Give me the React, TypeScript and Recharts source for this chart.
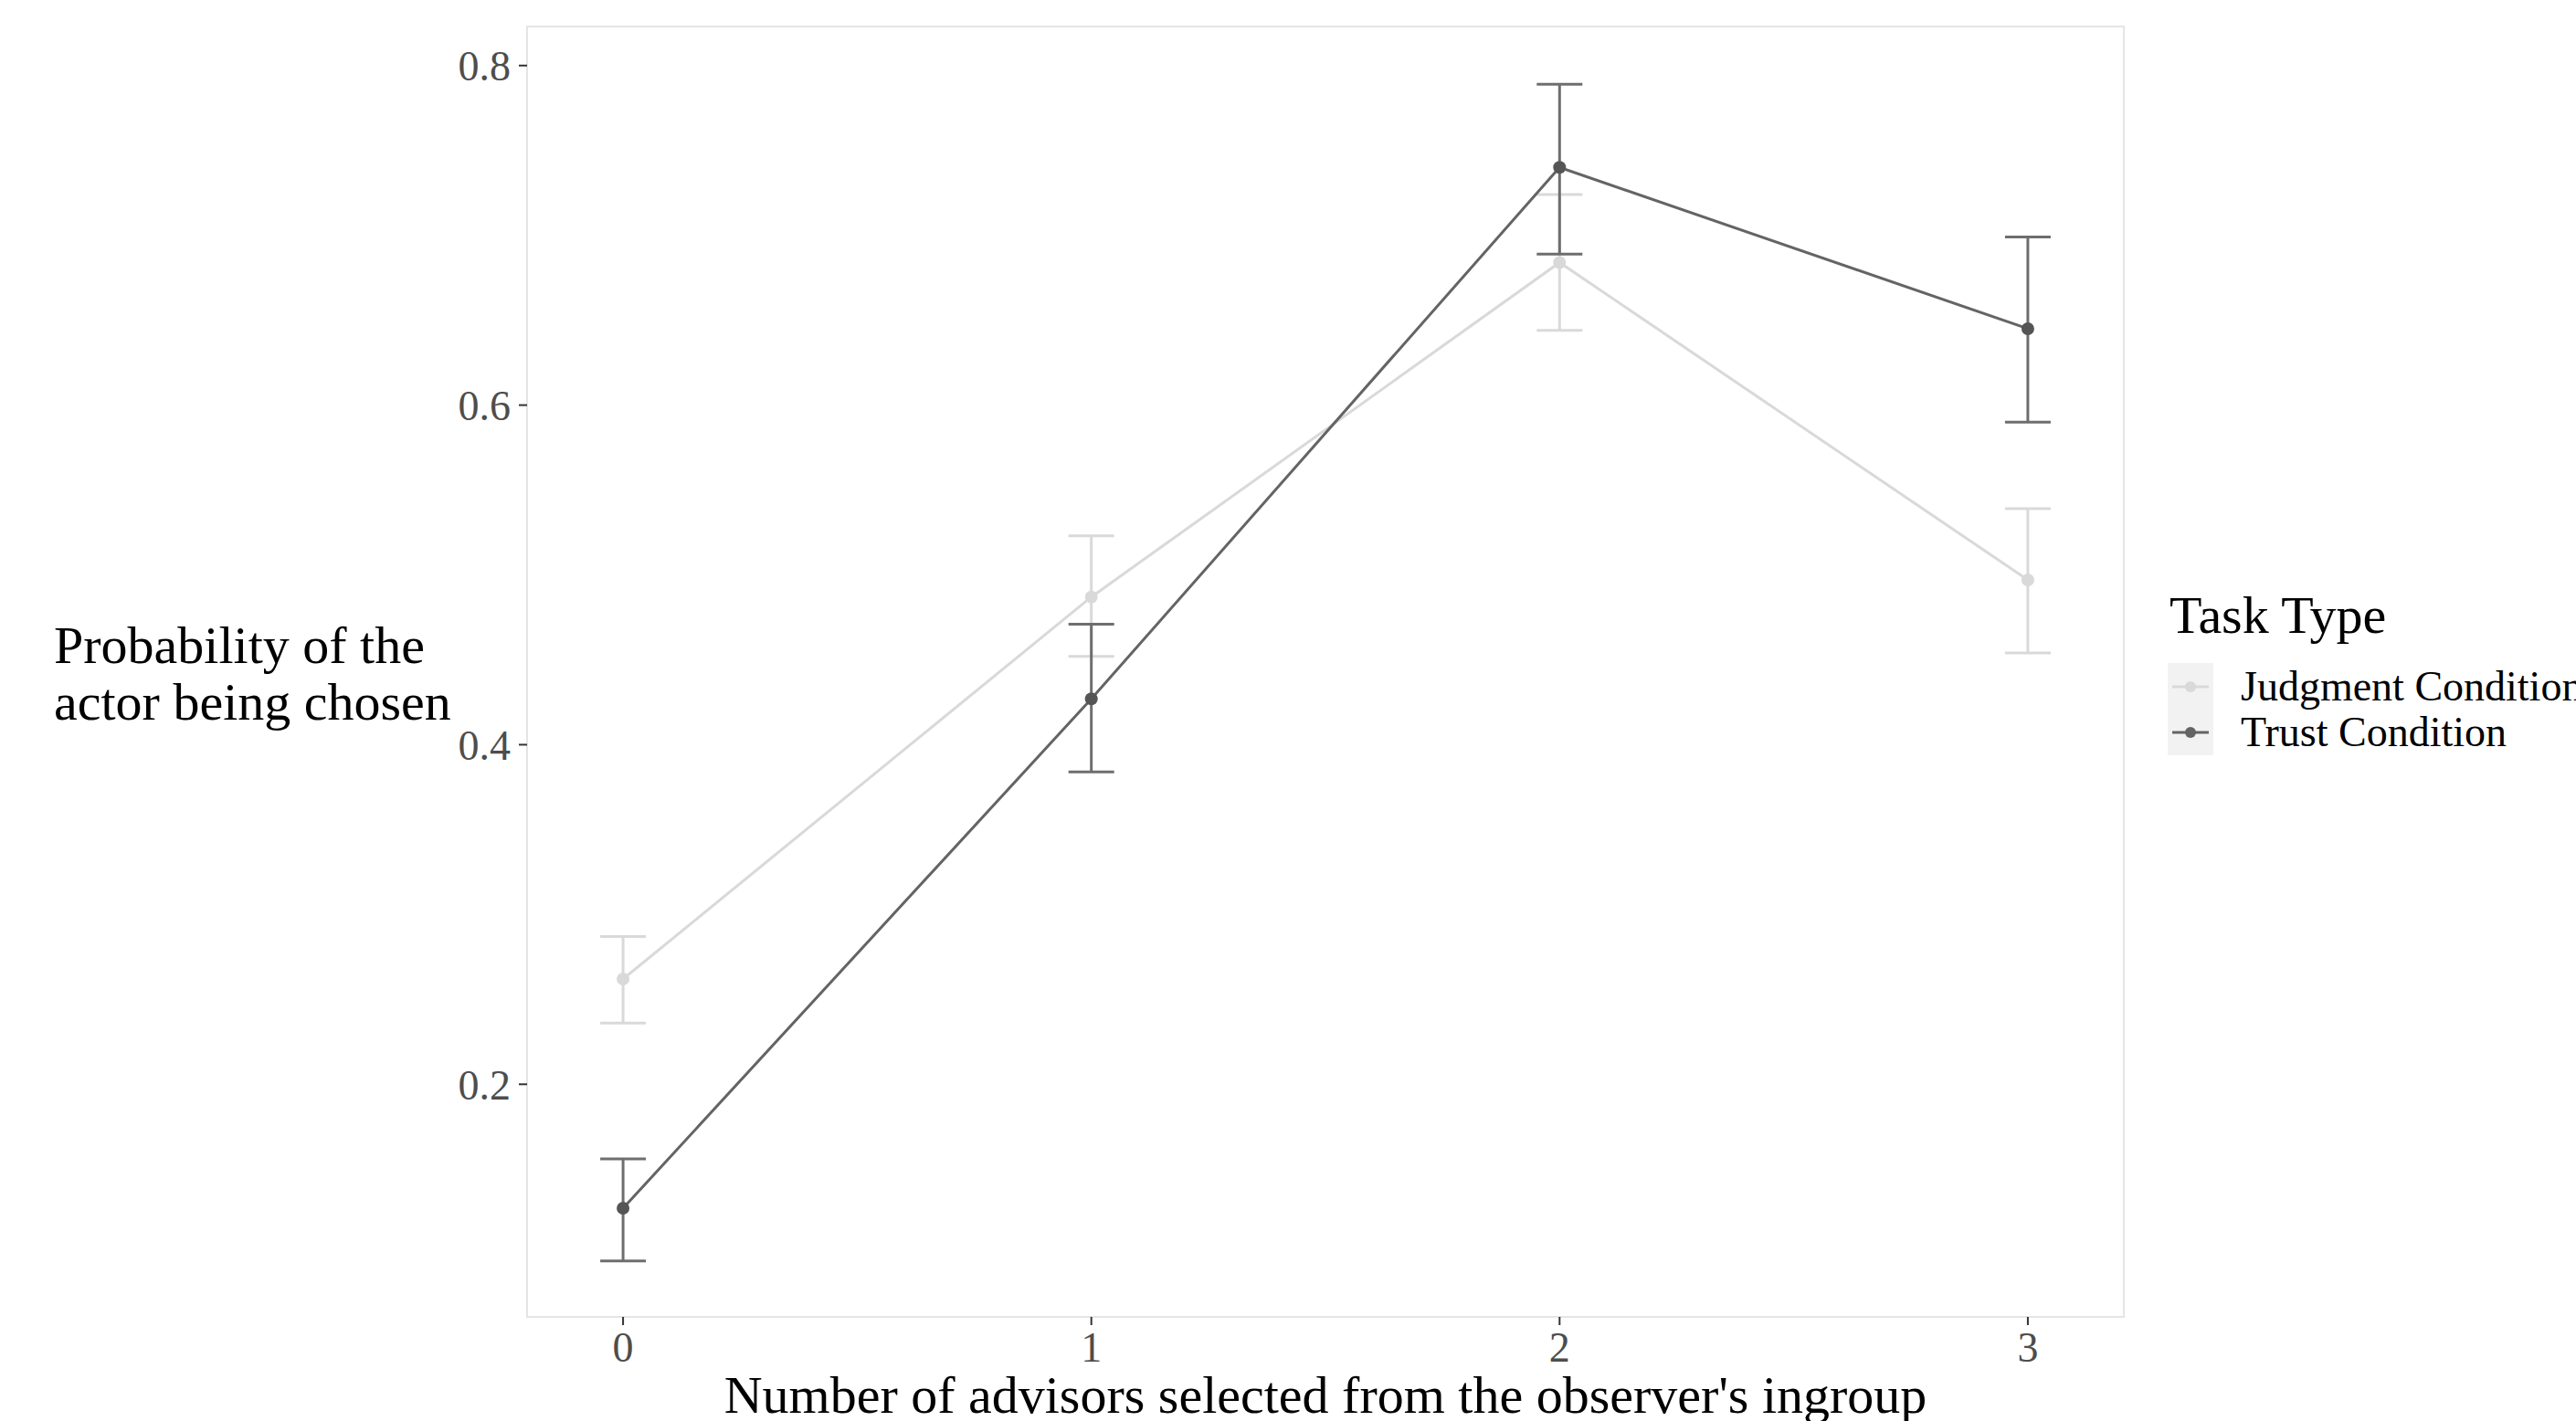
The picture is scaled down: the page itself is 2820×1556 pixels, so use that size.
import React from 'react';
import { LineChart, Line, XAxis, YAxis, ErrorBar, ReferenceArea, Legend, Label } from 'recharts';

// advisors chosen from ingroup (x) and the estimated probability per task type
const advisors = [0, 1, 2, 3];
const judgmentMean = [0.262, 0.487, 0.684, 0.497];
const judgmentLow = [0.236, 0.452, 0.644, 0.454];
const judgmentHigh = [0.287, 0.523, 0.724, 0.539];
const trustMean = [0.127, 0.427, 0.74, 0.645];
const trustLow = [0.096, 0.384, 0.689, 0.59];
const trustHigh = [0.156, 0.471, 0.789, 0.699];
const yTicks = [0.2, 0.4, 0.6, 0.8];
const seriesNames = ['Judgment Condition', 'Trust Condition'];

const font = '"Liberation Serif", "Times New Roman", serif';
const judgmentColor = '#d9d9d9';
const trustColor = '#646464';

const data = advisors.map((x, i) => ({
  x,
  judgment: judgmentMean[i],
  judgmentErr: [judgmentMean[i] - judgmentLow[i], judgmentHigh[i] - judgmentMean[i]],
  trust: trustMean[i],
  trustErr: [trustMean[i] - trustLow[i], trustHigh[i] - trustMean[i]],
}));

const legendItems = [
  { name: seriesNames[0], color: judgmentColor },
  { name: seriesNames[1], color: trustColor },
];

function TaskLegend() {
  return (
    <svg width={447} height={200} style={{ overflow: 'visible' }}>
      <text x={2} y={53} fontFamily={font} fontSize={58} fill="#000">Task Type</text>
      <rect x={0} y={86} width={50} height={101} fill="#f2f2f2" />
      {legendItems.map((item, i) => (
        <g key={item.name}>
          <line x1={5} x2={45} y1={112 + i * 50} y2={112 + i * 50} stroke={item.color} strokeWidth={3} />
          <circle cx={25} cy={112 + i * 50} r={6} fill={item.color} />
          <text x={80} y={127 + i * 50} fontFamily={font} fontSize={46} fill="#000">{item.name}</text>
        </g>
      ))}
    </svg>
  );
}

function YTitle(props: any) {
  return (
    <text x={59} y={726} fontFamily={font} fontSize={58} fill="#000">
      <tspan x={59} y={726}>Probability of the</tspan>
      <tspan x={59} y={788}>actor being chosen</tspan>
    </text>
  );
}

function XTitle(props: any) {
  return (
    <text x={1451} y={1547} textAnchor="middle" fontFamily={font} fontSize={58} fill="#000">
      Number of advisors selected from the observer's ingroup
    </text>
  );
}

export default function App() {
  return (
    <div style={{ position: 'absolute', left: 0, top: 0, width: 2820, height: 1556, background: '#fff', overflow: 'hidden' }}>
      <LineChart
        width={2820}
        height={1556}
        data={data}
        margin={{ top: 29, right: 495, bottom: 0, left: 0 }}
      >
        <XAxis
          dataKey="x"
          type="number"
          domain={[-0.205, 3.205]}
          ticks={advisors}
          allowDataOverflow
          axisLine={false}
          tickLine={{ stroke: '#333', strokeWidth: 2 }}
          tickSize={9}
          tickMargin={7}
          height={114}
          tick={{ fontFamily: font, fontSize: 46, fill: '#4d4d4d' }}
        >
          <Label content={<XTitle />} />
        </XAxis>
        <YAxis
          type="number"
          domain={[0.063, 0.823]}
          ticks={yTicks}
          allowDataOverflow
          axisLine={false}
          tickLine={{ stroke: '#333', strokeWidth: 2 }}
          tickSize={9}
          tickMargin={9}
          width={577}
          tick={{ fontFamily: font, fontSize: 46, fill: '#4d4d4d' }}
          tickFormatter={(v: number) => v.toFixed(1)}
        >
          <Label content={<YTitle />} />
        </YAxis>
        <ReferenceArea
          x1={-0.205}
          x2={3.205}
          y1={0.063}
          y2={0.823}
          fill="none"
          stroke="#e5e5e5"
          strokeWidth={2}
          ifOverflow="visible"
        />
        <Line
          dataKey="judgment"
          name={seriesNames[0]}
          stroke={judgmentColor}
          strokeWidth={3}
          dot={{ r: 7, fill: judgmentColor, stroke: 'none' }}
          activeDot={false}
          isAnimationActive={false}
        >
          <ErrorBar dataKey="judgmentErr" direction="y" width={25} stroke={judgmentColor} strokeWidth={3} isAnimationActive={false} />
        </Line>
        <Line
          dataKey="trust"
          name={seriesNames[1]}
          stroke={trustColor}
          strokeWidth={3}
          dot={{ r: 7, fill: '#555', stroke: 'none' }}
          activeDot={false}
          isAnimationActive={false}
        >
          <ErrorBar dataKey="trustErr" direction="y" width={25} stroke="#6e6e6e" strokeWidth={3} isAnimationActive={false} />
        </Line>
        <Legend
          layout="vertical"
          align="center"
          verticalAlign="middle"
          content={<TaskLegend />}
          wrapperStyle={{ left: 2373, top: 640, width: 447, height: 200 }}
        />
      </LineChart>
    </div>
  );
}
